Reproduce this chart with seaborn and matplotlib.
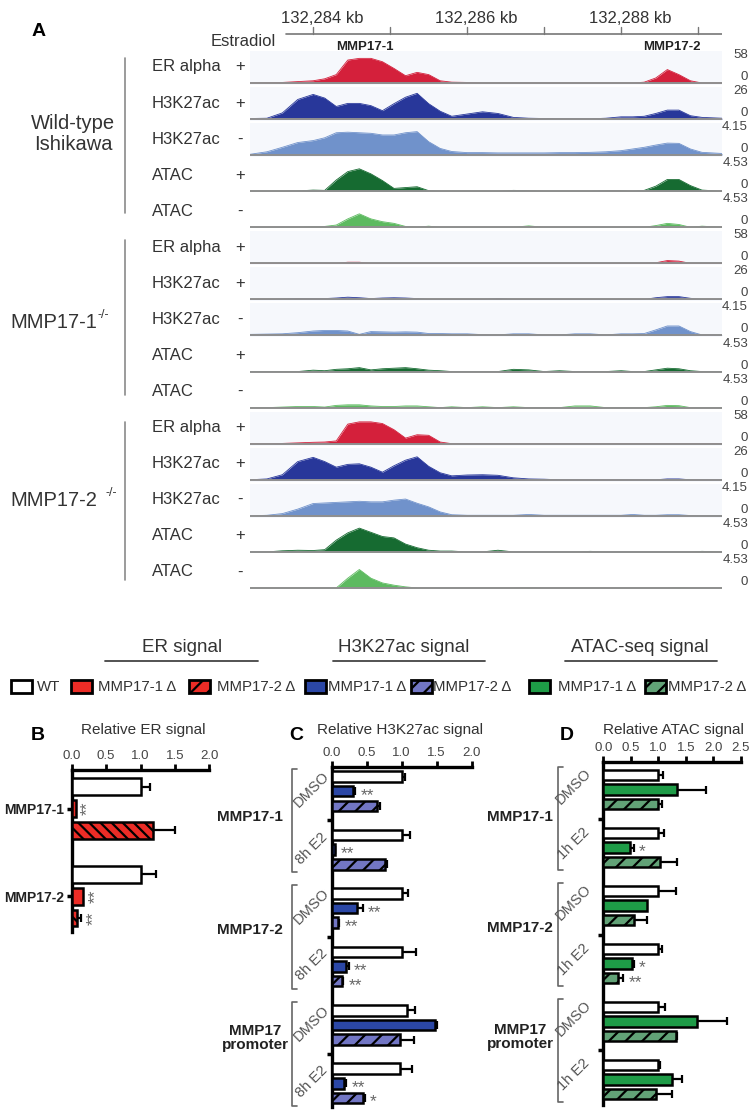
import numpy as np
import pandas as pd
import matplotlib
matplotlib.use('Agg')
import matplotlib.pyplot as plt
import seaborn as sns
from matplotlib.patches import Rectangle
from matplotlib.lines import Line2D
import matplotlib.transforms as mtrans

# ---------------- data: genome browser tracks (percent of track scale) ----------------
kb_pos = [132283.18, 132283.4, 132283.6, 132283.8, 132284.0, 132284.15, 132284.3, 132284.45,
          132284.6, 132284.75, 132284.9, 132285.05, 132285.2, 132285.35, 132285.5, 132285.65,
          132285.8, 132286.0, 132286.2, 132286.4, 132286.6, 132286.8, 132287.0, 132287.2,
          132287.4, 132287.6, 132287.8, 132288.0, 132288.15, 132288.3, 132288.45, 132288.6,
          132288.75, 132288.9, 132289.05, 132289.31]

wt_er = [0, 1, 2, 5, 8, 15, 30, 82, 88, 88, 76, 52, 26, 38, 30, 8, 3, 2, 0, 0, 0, 0, 0, 0,
         0, 0, 0, 0, 0, 3, 18, 48, 30, 8, 0, 0]
wt_k27_e2 = [2, 3, 22, 70, 88, 75, 45, 56, 56, 48, 30, 55, 78, 92, 55, 28, 10, 18, 26, 20, 6, 3,
             2, 1, 1, 1, 3, 8, 8, 10, 20, 32, 32, 12, 6, 3]
wt_k27_veh = [3, 12, 28, 45, 52, 62, 80, 82, 80, 78, 72, 72, 80, 84, 48, 24, 13, 9, 9, 8, 8, 8,
              8, 9, 9, 10, 12, 16, 22, 28, 36, 43, 42, 22, 10, 6]
wt_atac_e2 = [0, 0, 0, 1, 4, 3, 40, 70, 80, 62, 38, 10, 13, 16, 2, 0, 0, 0, 0, 0, 3, 2, 0, 0,
              0, 0, 2, 2, 0, 3, 18, 42, 42, 20, 4, 0]
wt_atac_veh = [0, 0, 0, 0, 3, 3, 8, 30, 48, 30, 20, 14, 3, 0, 4, 0, 0, 0, 0, 0, 0, 5, 0, 0,
               0, 0, 0, 0, 0, 0, 6, 14, 10, 0, 4, 0]

ko1_er = [0, 0, 0, 0, 0, 0, 0, 4, 4, 0, 0, 0, 0, 0, 0, 0, 0, 0, 0, 0, 0, 0, 0, 0,
          0, 0, 0, 0, 0, 0, 2, 10, 8, 0, 0, 0]
ko1_k27_e2 = [0, 0, 1, 3, 3, 3, 5, 8, 6, 3, 5, 6, 5, 3, 0, 0, 0, 0, 0, 3, 0, 0, 0, 0,
              0, 0, 0, 0, 0, 0, 6, 10, 10, 4, 0, 0]
ko1_k27_veh = [4, 5, 6, 10, 16, 18, 18, 16, 4, 14, 13, 12, 13, 12, 7, 7, 6, 6, 3, 2, 6, 6,
               2, 2, 6, 6, 2, 6, 6, 7, 20, 34, 34, 14, 2, 1]
ko1_atac_e2 = [0, 0, 0, 0, 5, 3, 8, 10, 14, 6, 10, 12, 14, 10, 5, 3, 0, 0, 0, 0, 8, 6, 0, 3,
               0, 0, 0, 3, 0, 0, 6, 12, 10, 3, 0, 0]
ko1_atac_veh = [0, 0, 2, 4, 4, 2, 8, 10, 10, 6, 4, 4, 6, 6, 3, 0, 3, 0, 3, 0, 3, 0, 0, 0,
                6, 6, 0, 0, 0, 0, 3, 8, 7, 0, 0, 0]

ko2_er = [0, 0, 1, 3, 5, 6, 10, 70, 78, 78, 72, 50, 20, 32, 30, 6, 0, 0, 0, 0, 0, 0, 0, 0,
          0, 0, 0, 0, 0, 0, 0, 0, 0, 0, 0, 0]
ko2_k27_e2 = [0, 3, 18, 65, 80, 65, 45, 55, 57, 45, 27, 50, 70, 82, 48, 25, 14, 17, 18, 16, 7, 3,
              2, 0, 0, 0, 0, 0, 0, 0, 0, 3, 3, 0, 0, 0]
ko2_k27_veh = [0, 2, 8, 24, 44, 46, 48, 50, 52, 50, 50, 56, 60, 45, 32, 14, 4, 2, 2, 2, 2, 5,
               2, 2, 2, 2, 2, 2, 5, 2, 2, 4, 4, 1, 0, 0]
ko2_atac_e2 = [0, 0, 4, 6, 5, 8, 42, 68, 85, 70, 55, 50, 28, 15, 6, 3, 3, 0, 0, 6, 0, 0, 0, 0,
               0, 2, 0, 0, 0, 0, 0, 0, 0, 0, 2, 0]
ko2_atac_veh = [0, 0, 0, 0, 0, 0, 0, 35, 66, 35, 18, 10, 4, 0, 0, 0, 0, 0, 0, 0, 0, 2,
                0, 0, 0, 0, 0, 0, 0, 0, 0, 0, 2, 0, 0, 0]

track_names = ['ER alpha', 'H3K27ac', 'H3K27ac', 'ATAC', 'ATAC']
track_e2 = ['+', '+', '-', '+', '-']
track_max = ['58', '26', '4.15', '4.53', '4.53']
ruler_kb = [132284, 132285, 132286, 132287, 132288, 132289]
ruler_labels = ['132,284 kb', '', '132,286 kb', '', '132,288 kb', '']

# ---------------- data: bar charts ----------------
genos = ['WT', '1Δ', '2Δ']

b_gene = ['MMP17-1'] * 3 + ['MMP17-2'] * 3
b_vals = [1.0, 0.06, 1.18, 1.0, 0.17, 0.07]
b_errs = [0.14, 0.0, 0.32, 0.23, 0.0, 0.07]
b_stars = ['', '**', '', '', '**', '**']

c_gene = ['MMP17-1'] * 6 + ['MMP17-2'] * 6 + ['promoter'] * 6
c_treat = (['DMSO'] * 3 + ['E2'] * 3) * 3
c_vals = [1.0, 0.31, 0.64, 1.0, 0.04, 0.76,
          1.0, 0.36, 0.09, 1.0, 0.21, 0.14,
          1.07, 1.48, 0.98, 0.98, 0.18, 0.45]
c_errs = [0.04, 0.02, 0.05, 0.12, 0.01, 0.03,
          0.09, 0.08, 0.02, 0.21, 0.03, 0.02,
          0.12, 0.03, 0.19, 0.16, 0.02, 0.02]
c_stars = ['', '**', '', '', '**', '',
           '', '**', '**', '', '**', '**',
           '', '', '', '', '**', '*']

d_vals = [1.0, 1.35, 1.0, 1.0, 0.49, 1.03,
          1.0, 0.79, 0.55, 1.0, 0.53, 0.26,
          1.0, 1.70, 1.32, 1.0, 1.25, 0.96]
d_errs = [0.09, 0.52, 0.06, 0.10, 0.06, 0.31,
          0.32, 0.0, 0.24, 0.06, 0.02, 0.10,
          0.12, 0.55, 0.02, 0.04, 0.19, 0.29]
d_stars = ['', '', '', '', '*', '',
           '', '', '', '', '*', '**',
           '', '', '', '', '', '']

# ---------------- style ----------------
sns.set_theme(style='white')
plt.rcParams['font.family'] = ['Liberation Sans', 'DejaVu Sans']
plt.rcParams['hatch.linewidth'] = 1.6

RED = '#ec2c26'
BLUE = '#2b47a6'
BLUE_H = '#7276c4'
GREEN = '#1e9b47'
GREEN_H = '#62a277'
track_colors = ['#d4203b', '#28379a', '#7092cb', '#166b31', '#5dba60']
track_shaded = [True, True, True, False, False]

W, H = 756, 1116
fig = plt.figure(figsize=(W / 100, H / 100), dpi=100)
fig.patch.set_facecolor('white')


def fx(x):
    return x / W


def fy(y):
    return 1 - y / H


def add_ax(x0, y0, x1, y1):
    return fig.add_axes([fx(x0), fy(y1), (x1 - x0) / W, (y1 - y0) / H])


def ftext(x, y, s, **kw):
    kw.setdefault('color', '#333333')
    return fig.text(fx(x), fy(y), s, **kw)


def fline(xs, ys, **kw):
    fig.add_artist(Line2D([fx(x) for x in xs], [fy(y) for y in ys], **kw))


# ---------------- panel A ----------------
ftext(32, 31, 'A', fontsize=14, fontweight='bold', va='center', ha='left', color='black')

ax_r = add_ax(250, 10, 722, 36)
ax_r.set_xlim(kb_pos[0], kb_pos[-1])
ax_r.set_ylim(0, 1)
ax_r.axis('off')
ax_r.plot([132283.65, kb_pos[-1]], [0.08, 0.08], color='#777777', lw=1.2)
for k, lab in zip(ruler_kb, ruler_labels):
    ax_r.plot([k, k], [0.08, 0.34], color='#777777', lw=1.0)
    if lab:
        ax_r.text(k + 0.12, 0.68, lab, ha='center', va='center', fontsize=12, color='#333333')

ftext(365, 47, 'MMP17-1', fontsize=9.5, fontweight='bold', ha='center', va='center', color='#222222')
ftext(672, 47, 'MMP17-2', fontsize=9.5, fontweight='bold', ha='center', va='center', color='#222222')
ftext(243, 41, 'Estradiol', fontsize=12, ha='center', va='center')

all_tracks = [wt_er, wt_k27_e2, wt_k27_veh, wt_atac_e2, wt_atac_veh,
              ko1_er, ko1_k27_e2, ko1_k27_veh, ko1_atac_e2, ko1_atac_veh,
              ko2_er, ko2_k27_e2, ko2_k27_veh, ko2_atac_e2, ko2_atac_veh]

for i, vals in enumerate(all_tracks):
    j = i % 5
    b = 83 + 36.07 * i
    ax = add_ax(250, b - 32, 722, b + 2)
    ax.set_xlim(kb_pos[0], kb_pos[-1])
    ax.set_ylim(-100 * 2 / 28, 100 * 32 / 28)
    ax.set_facecolor('#f6f8fc' if track_shaded[j] else 'white')
    ax.fill_between(kb_pos, 0, vals, color=track_colors[j], lw=0)
    sns.lineplot(x=kb_pos, y=vals, ax=ax, color=track_colors[j], lw=0.6)
    ax.axhline(0, color='#8f8f8f', lw=1.4)
    ax.set_xticks([])
    ax.set_yticks([])
    ax.set_xlabel('')
    ax.set_ylabel('')
    for s in ax.spines.values():
        s.set_visible(False)
    ftext(152, b - 16, track_names[j], fontsize=12, ha='left', va='center')
    ftext(240, b - 16, track_e2[j], fontsize=12, ha='center', va='center')
    ftext(748, b - 28, track_max[j], fontsize=9.5, ha='right', va='center', color='#444444')
    ftext(748, b - 6, '0', fontsize=9.5, ha='right', va='center', color='#444444')

for y0, y1 in [(58, 213), (240, 395), (422, 580)]:
    fline([125, 125], [y0, y1], color='#8a8a8a', lw=1.2)

ftext(73, 134, 'Wild-type\nIshikawa', fontsize=14.5, ha='center', va='center', linespacing=1.15)
ftext(10, 322, 'MMP17-1', fontsize=14.5, ha='left', va='center')
ftext(97, 315, '-/-', fontsize=9, ha='left', va='center')
ftext(10, 500, 'MMP17-2', fontsize=14.5, ha='left', va='center')
ftext(105, 493, '-/-', fontsize=9, ha='left', va='center')

# ---------------- legend ----------------
for cx, x0, x1, lab in [(182, 105, 258, 'ER signal'), (404, 333, 485, 'H3K27ac signal'),
                        (640, 565, 717, 'ATAC-seq signal')]:
    ftext(cx, 648, lab, fontsize=13.5, ha='center', va='center')
    fline([x0, x1], [661, 661], color='#444444', lw=1.3)

legend_items = [(11, 'white', None, 'WT', 37), (71, RED, None, 'MMP17-1 Δ', 98),
                (189, RED, '//', 'MMP17-2 Δ', 217), (305, BLUE, None, 'MMP17-1 Δ', 328),
                (411, BLUE_H, '//', 'MMP17-2 Δ', 433), (529, GREEN, None, 'MMP17-1 Δ', 558),
                (645, GREEN_H, '//', 'MMP17-2 Δ', 668)]
for x0, fc, hatch, lab, tx in legend_items:
    r = Rectangle((fx(x0), fy(693)), 21 / W, 13 / H, transform=fig.transFigure,
                  facecolor=fc, edgecolor='black', lw=2.0, hatch=hatch)
    fig.add_artist(r)
    ftext(tx, 687, lab, fontsize=10.8, ha='left', va='center')


# ---------------- bar panels ----------------
def bar_panel(ax, slots, gen, vals, errs, stars, palette, hatch, width, xmax, star_rot=0):
    df = pd.DataFrame({'slot': slots, 'geno': gen, 'val': vals, 'err': errs})
    sns.barplot(data=df, x='val', y='slot', hue='geno', hue_order=genos, palette=palette,
                orient='h', native_scale=True, dodge=False, width=width, edgecolor='black',
                linewidth=1.8, errorbar=None, legend=False, saturation=1, ax=ax, zorder=3)
    for p in ax.patches:
        yc = p.get_y() + p.get_height() / 2
        k = int(np.argmin(np.abs(df['slot'].values - yc)))
        if df['geno'][k] == '2Δ':
            p.set_hatch(hatch)
    m = df['err'] > 0
    ax.errorbar(df['val'][m], df['slot'][m], xerr=[np.zeros(m.sum()), df['err'][m]],
                fmt='none', ecolor='black', elinewidth=1.6, capsize=2.6, capthick=1.6, zorder=2)
    for v, e, s, st in zip(vals, errs, slots, stars):
        if st:
            if star_rot:
                ax.annotate(st, (v + e, s), xytext=(3, 0), textcoords='offset points',
                            rotation=90, ha='left', va='center', fontsize=12.5, color='#666666')
            else:
                ax.annotate(st, (v + e, s), xytext=(4, -3), textcoords='offset points',
                            ha='left', va='center', fontsize=12.5, color='#666666')
    ax.set_xlim(0, xmax)
    ticks = np.arange(0, xmax + 0.01, 0.5)
    ax.set_xticks(ticks)
    ax.set_xticklabels(['%.1f' % t for t in ticks])
    ax.xaxis.tick_top()
    ax.tick_params(axis='x', direction='out', length=4, width=2, colors='black',
                   labelcolor='#444444', labelsize=9.5, pad=1.5, top=True, bottom=False)
    ax.tick_params(axis='y', direction='out', length=3.5, width=2.5, colors='black', left=True, pad=2)
    for side in ['right', 'bottom']:
        ax.spines[side].set_visible(False)
    for side in ['top', 'left']:
        ax.spines[side].set_linewidth(2.4)
        ax.spines[side].set_color('black')
    ax.set_facecolor('none')
    ax.set_xlabel('')
    ax.set_ylabel('')


# panel B
b_geno = genos * 2
b_slots = [4 * sorted(set(b_gene)).index(g) + genos.index(k) for g, k in zip(b_gene, b_geno)]
axB = add_ax(71.7, 770, 209.3, 931.7)
bar_panel(axB, b_slots, b_geno, b_vals, b_errs, b_stars,
          {'WT': 'white', '1Δ': RED, '2Δ': RED}, '\\\\\\', 0.76, 2.0, star_rot=90)
axB.set_ylim(6.62, -0.76)
axB.set_yticks([1, 5])
axB.set_yticklabels(['MMP17-1', 'MMP17-2'], fontweight='bold', fontsize=10, color='#222222')
ftext(38, 735, 'B', fontsize=14, fontweight='bold', ha='center', va='center', color='black')
ftext(143, 730, 'Relative ER signal', fontsize=11, ha='center', va='center')

# panels C and D share layout
c_geno = genos * 6
gene_order = ['MMP17-1', 'MMP17-2', 'promoter']
cd_slots = [8 * gene_order.index(g) + 4 * ['DMSO', 'E2'].index(t) + genos.index(k)
            for g, t, k in zip(c_gene, c_treat, c_geno)]

panels = [
    dict(box=(331.7, 766.7, 471.7, 1106.7), ylim=(22.6, -0.68), vals=c_vals, errs=c_errs,
         stars=c_stars, pal={'WT': 'white', '1Δ': BLUE, '2Δ': BLUE_H}, xmax=2.0,
         br=-40, tr=-20, e2='8h E2', lab_r=-48.7, lab_y=[2.75, 10.5], prom=(-76.7, 17.9),
         tr_y=(0.9, 4.9), letter=(296, 'C'), title=(400, 'Relative H3K27ac signal')),
    dict(box=(603.3, 761.7, 740.7, 1105), ylim=(22.76, -0.92), vals=d_vals, errs=d_errs,
         stars=d_stars, pal={'WT': 'white', '1Δ': GREEN, '2Δ': GREEN_H}, xmax=2.5,
         br=-45, tr=-30, e2='1h E2', lab_r=-50.3, lab_y=[2.9, 10.55], prom=(-83.3, 18.1),
         tr_y=(0.8, 4.7), letter=(567, 'D'), title=(673, 'Relative ATAC signal')),
]

for P in panels:
    x0, y0, x1, y1 = P['box']
    wpx = x1 - x0
    ax = add_ax(x0, y0, x1, y1)
    bar_panel(ax, cd_slots, c_geno, P['vals'], P['errs'], P['stars'], P['pal'], '//', 0.72, P['xmax'])
    ax.set_ylim(*P['ylim'])
    ax.set_yticks([3, 11, 19])
    ax.set_yticklabels(['', '', ''])
    tr = mtrans.blended_transform_factory(ax.transAxes, ax.transData)
    for g in range(3):
        top, bot = 8 * g - 0.55, 8 * g + 6.55
        xb, xs = P['br'] / wpx, (P['br'] + 5) / wpx
        ax.plot([xs, xb, xb, xs], [top, top, bot, bot], color='#666666', lw=1.2,
                transform=tr, clip_on=False)
        ax.text(P['tr'] / wpx, 8 * g + P['tr_y'][0], 'DMSO', rotation=45, ha='center', va='center',
                fontsize=10.5, color='#555555', transform=tr, rotation_mode='anchor')
        ax.text(P['tr'] / wpx, 8 * g + P['tr_y'][1], P['e2'], rotation=45, ha='center', va='center',
                fontsize=10.5, color='#555555', transform=tr, rotation_mode='anchor')
    for lab, yy in zip(['MMP17-1', 'MMP17-2'], P['lab_y']):
        ax.text(P['lab_r'] / wpx, yy, lab, ha='right', va='center', fontsize=11,
                fontweight='bold', color='#222222', transform=tr)
    ax.text(P['prom'][0] / wpx, P['prom'][1], 'MMP17\npromoter', ha='center', va='center',
            fontsize=11, fontweight='bold', color='#222222', transform=tr, linespacing=1.0)
    lx, letter = P['letter']
    ftext(lx, 735, letter, fontsize=14, fontweight='bold', ha='center', va='center', color='black')
    ftext(P['title'][0], 730, P['title'][1], fontsize=11, ha='center', va='center')

fig.savefig('out.png', dpi=100, facecolor='white')
